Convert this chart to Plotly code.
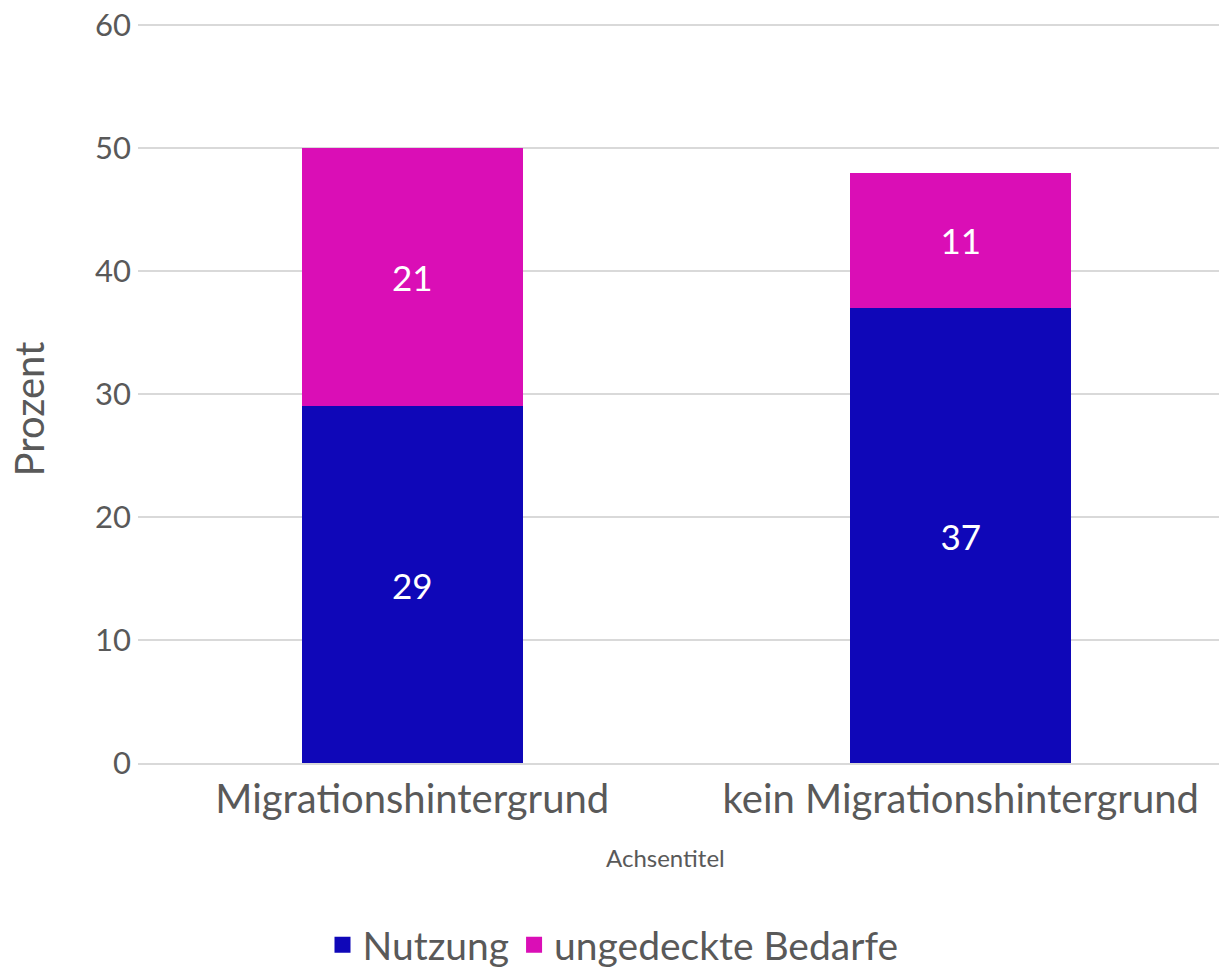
import plotly.graph_objects as go

categories = ["Migrationshintergrund", "kein Migrationshintergrund"]
nutzung = [29, 37]
bedarfe = [21, 11]
y_ticks = [0, 10, 20, 30, 40, 50, 60]
series_names = ["Nutzung", "ungedeckte Bedarfe"]
colors = ["#0F07B8", "#DA0EB6"]

FONT = "Lato, Open Sans, sans-serif"
GREY = "#595959"
PW = 1097  # plot width in px
PH = 740   # plot height in px

fig = go.Figure()
for vals, name, col in zip([nutzung, bedarfe], series_names, colors):
    fig.add_trace(go.Bar(
        x=categories, y=vals, name=name, legendgroup=name, showlegend=False,
        marker=dict(color=col, line=dict(width=0)),
        text=vals, textposition="inside", insidetextanchor="middle",
        textfont=dict(color="white", size=35, family=FONT),
    ))
# legend entries with square keys
for name, col in zip(series_names, colors):
    fig.add_trace(go.Scatter(
        x=[None], y=[None], mode="markers", name=name, legendgroup=name,
        marker=dict(symbol="square", size=24, color=col),
    ))

fig.update_layout(
    width=1227, height=970,
    barmode="stack", bargap=0.597,
    plot_bgcolor="white", paper_bgcolor="white",
    margin=dict(l=130, r=0, t=16, b=215),
    font=dict(family=FONT, color=GREY),
    showlegend=True,
    legend=dict(orientation="h", x=(613 - 138) / PW, xanchor="center",
                yref="container", y=1 - 937 / 970, yanchor="middle",
                font=dict(size=39, color=GREY, family=FONT), itemwidth=30,
                traceorder="normal", itemsizing="trace"),
    uniformtext=dict(mode="show", minsize=10),
    annotations=[
        dict(text="Achsentitel", xref="paper", yref="paper",
             x=(665 - 138) / PW, y=-(858 - 763) / PH,
             xanchor="center", yanchor="middle", showarrow=False,
             font=dict(size=24, color=GREY, family=FONT)),
        dict(text="Prozent", xref="paper", yref="paper", textangle=-90,
             x=-(138 - 29) / PW, y=(763 - 409) / PH,
             xanchor="center", yanchor="middle", showarrow=False,
             font=dict(size=40, color=GREY, family=FONT)),
    ],
)
fig.update_yaxes(
    range=[0, 60.1], tickvals=y_ticks, showgrid=True, gridcolor="#D9D9D9", gridwidth=2,
    zeroline=False, showline=False, ticks="", tickfont=dict(size=31, color=GREY),
    ticklabelstandoff=6, automargin=False, ticklabeloverflow="allow",
)
fig.update_xaxes(
    showline=True, linecolor="#D9D9D9", linewidth=2, ticks="",
    tickfont=dict(size=40, color=GREY), automargin=False, ticklabelstandoff=0,
)

fig.write_html("out.html")
